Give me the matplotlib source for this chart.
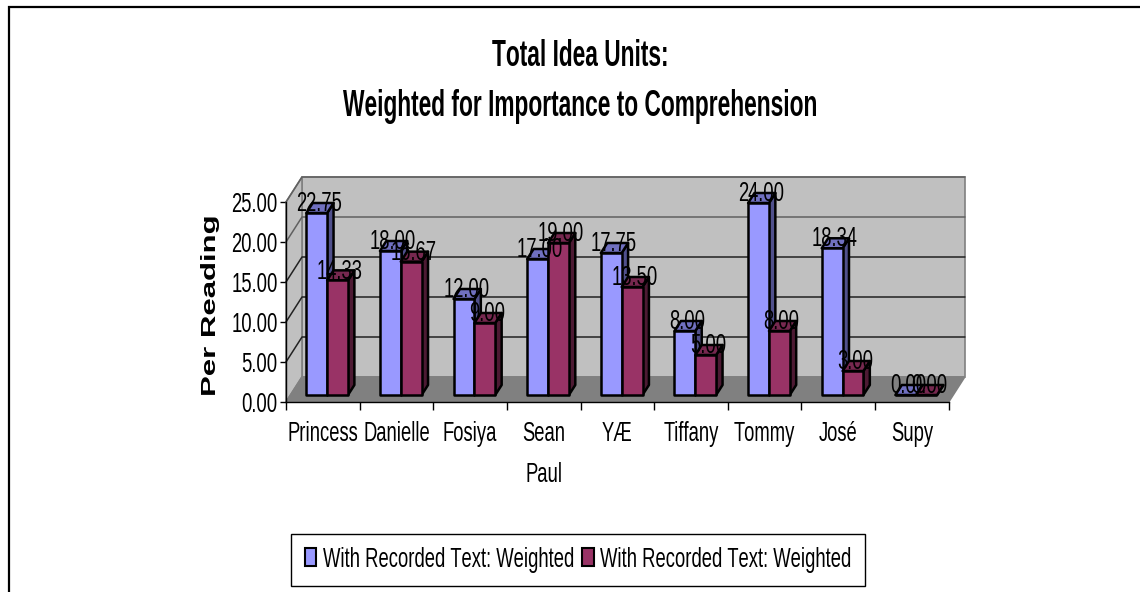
import matplotlib
matplotlib.use("Agg")
import matplotlib.pyplot as plt
from matplotlib import font_manager as fm
from matplotlib.lines import Line2D
from matplotlib.patches import Patch, Polygon
from fontTools.ttLib import TTFont
import numpy as np

names = ["Princess", "Danielle", "Fosiya", "Sean\nPaul", "YÆ", "Tiffany", "Tommy", "José", "Supy"]
weighted_a = [22.75, 18.00, 12.00, 17.00, 17.75, 8.00, 24.00, 18.34, 0.00]
weighted_b = [14.33, 16.67, 9.00, 19.00, 13.50, 5.00, 8.00, 3.00, 0.00]
legend_names = ["With Recorded Text: Weighted", "With Recorded Text: Weighted"]
yticks = [0, 5, 10, 15, 20, 25]

W, H = 1140, 592

# oblique offset of the chart box, in data units per unit of depth
DX = 16 / 73.63
DY = 25 / 8.0
D_FRONT = 0.28
D_BACK = 0.68
BAR_W = 0.283
BAR_X0 = 0.215

BLUE = ("#9999FF", "#7070C0", "#50508C")
RED = ("#993366", "#76284F", "#4D1A33")


def stretched_font(weight, sx, family):
    # writes a horizontally scaled copy of Liberation Sans and registers it
    path = fm.findfont(fm.FontProperties(family="Liberation Sans", weight=weight))
    font = TTFont(path)
    glyf = font["glyf"]
    for gname in font.getGlyphOrder():
        g = glyf[gname]
        if g.isComposite():
            for c in g.components:
                c.x = int(round(c.x * sx))
        elif g.numberOfContours > 0:
            g.coordinates.scale((sx, 1))
            g.coordinates.toInt()
        if hasattr(g, "program"):
            g.program.fromBytecode(b"")
        g.recalcBounds(glyf)
    hmtx = font["hmtx"]
    for gname, (adv, lsb) in hmtx.metrics.items():
        hmtx.metrics[gname] = (int(round(adv * sx)), int(round(lsb * sx)))
    for tag in ("fpgm", "prep", "cvt ", "kern", "GPOS", "GSUB", "hdmx", "VDMX", "LTSH"):
        if tag in font:
            del font[tag]
    for rec in font["name"].names:
        if rec.nameID in (1, 16):
            rec.string = family
        elif rec.nameID in (4, 6):
            rec.string = family.replace(" ", "") + ("-" + weight if rec.nameID == 6 else "")
    out = family.replace(" ", "") + ".ttf"
    font.save(out)
    fm.fontManager.addfont(out)
    return family


BODY = stretched_font("regular", 0.665, "Chart Narrow")
HEAD = stretched_font("bold", 0.63, "Chart Head")
AXIS = stretched_font("bold", 1.55, "Chart Wide")


def pt(x, y, d):
    return (x + DX * d, y + DY * d)


def bar3d(ax, x, v, cols, z):
    a, b = x, x + BAR_W
    front = [pt(a, 0, D_FRONT), pt(b, 0, D_FRONT), pt(b, v, D_FRONT), pt(a, v, D_FRONT)]
    top = [pt(a, v, D_FRONT), pt(b, v, D_FRONT), pt(b, v, D_BACK), pt(a, v, D_BACK)]
    side = [pt(b, 0, D_FRONT), pt(b, 0, D_BACK), pt(b, v, D_BACK), pt(b, v, D_FRONT)]
    for poly, c in zip((side, top, front), (cols[2], cols[1], cols[0])):
        ax.add_patch(Polygon(poly, closed=True, facecolor=c, edgecolor="black", lw=1.8,
                             joinstyle="round", clip_on=False, zorder=z))


fig = plt.figure(figsize=(W / 100, H / 100), dpi=100)
ax = fig.add_axes([286 / W, 1 - 402 / H, 662.7 / W, 200 / H])
ax.set_xlim(0, 9)
ax.set_ylim(0, 25)
ax.patch.set_visible(False)

# walls and floor
wall = [pt(0, 0, 1), pt(9, 0, 1), pt(9, 25, 1), pt(0, 25, 1)]
left = [pt(0, 0, 0), pt(0, 0, 1), pt(0, 25, 1), pt(0, 25, 0)]
floor = [pt(0, 0, 0), pt(9, 0, 0), pt(9, 0, 1), pt(0, 0, 1)]
for poly, c in zip((wall, left, floor), ("#C0C0C0", "#C0C0C0", "#808080")):
    ax.add_patch(Polygon(poly, closed=True, facecolor=c, edgecolor="#808080", lw=1.2,
                         clip_on=False, zorder=1))

for v in yticks[1:]:
    col = "#222222" if v < 20 else "#606060"
    xs, ys = zip(pt(0, v, 0), pt(0, v, 1), pt(9, v, 1))
    ax.plot(xs, ys, color=col, lw=1.1, clip_on=False, zorder=2)

for i in range(len(names)):
    bar3d(ax, i + BAR_X0, weighted_a[i], BLUE, 3 + i * 0.01)
    bar3d(ax, i + BAR_X0 + BAR_W, weighted_b[i], RED, 3 + i * 0.01 + 0.005)

# value labels sit over the top face of each bar
for i in range(len(names)):
    for k, vals in enumerate((weighted_a, weighted_b)):
        xc = i + BAR_X0 + BAR_W * (k + 0.5) + DX * (D_FRONT + D_BACK) / 2 - 0.012
        yc = vals[i] + DY * D_FRONT + 1.1
        ax.text(xc, yc, "%.2f" % vals[i], ha="center", va="center", family=BODY,
                fontsize=20, color="black", clip_on=False, zorder=6)

for s in ("top", "right"):
    ax.spines[s].set_visible(False)
for s in ("left", "bottom"):
    ax.spines[s].set_linewidth(1.0)
    ax.spines[s].set_zorder(2.5)

ax.set_yticks(yticks)
ax.set_yticklabels(["%.2f" % v for v in yticks], family=BODY, fontsize=20, va="center_baseline")
ax.tick_params(axis="y", length=4, width=1, pad=2)
ax.set_xticks(np.arange(10))
ax.set_xticklabels([])
ax.tick_params(axis="x", which="major", length=6, width=1)
ax.set_xticks(np.arange(9) + 0.5, minor=True)
ax.set_xticklabels(names, minor=True, family=BODY, fontsize=20, linespacing=1.72)
ax.tick_params(axis="x", which="minor", length=0, pad=14)

fig.text(211 / W, 1 - 305 / H, "Per Reading", rotation=90, ha="center", va="center",
         family=AXIS, fontsize=14.5)
fig.text(580 / W, 1 - 57 / H, "Total Idea Units:", ha="center", va="center",
         family=HEAD, fontsize=26)
fig.text(580 / W, 1 - 106 / H, "Weighted for Importance to Comprehension", ha="center", va="center",
         family=HEAD, fontsize=26)

handles = [Patch(facecolor=BLUE[0], edgecolor="black", lw=1.5),
           Patch(facecolor=RED[0], edgecolor="black", lw=1.5)]
fig.legend(handles, legend_names, ncols=2, loc="center", bbox_to_anchor=(578 / W, 1 - 560 / H),
           prop={"family": BODY, "size": 20}, fancybox=False, framealpha=1, edgecolor="black",
           handlelength=0.42, handleheight=0.62, handletextpad=0.22, columnspacing=0.3,
           borderpad=0.48, borderaxespad=0)

# frame around the chart area, left and top only
fig.add_artist(Line2D([8.5 / W, 8.5 / W, 1], [0, 1 - 7 / H, 1 - 7 / H], color="black", lw=1.6,
                      solid_joinstyle="miter"))

fig.savefig("out.png", dpi=100)
